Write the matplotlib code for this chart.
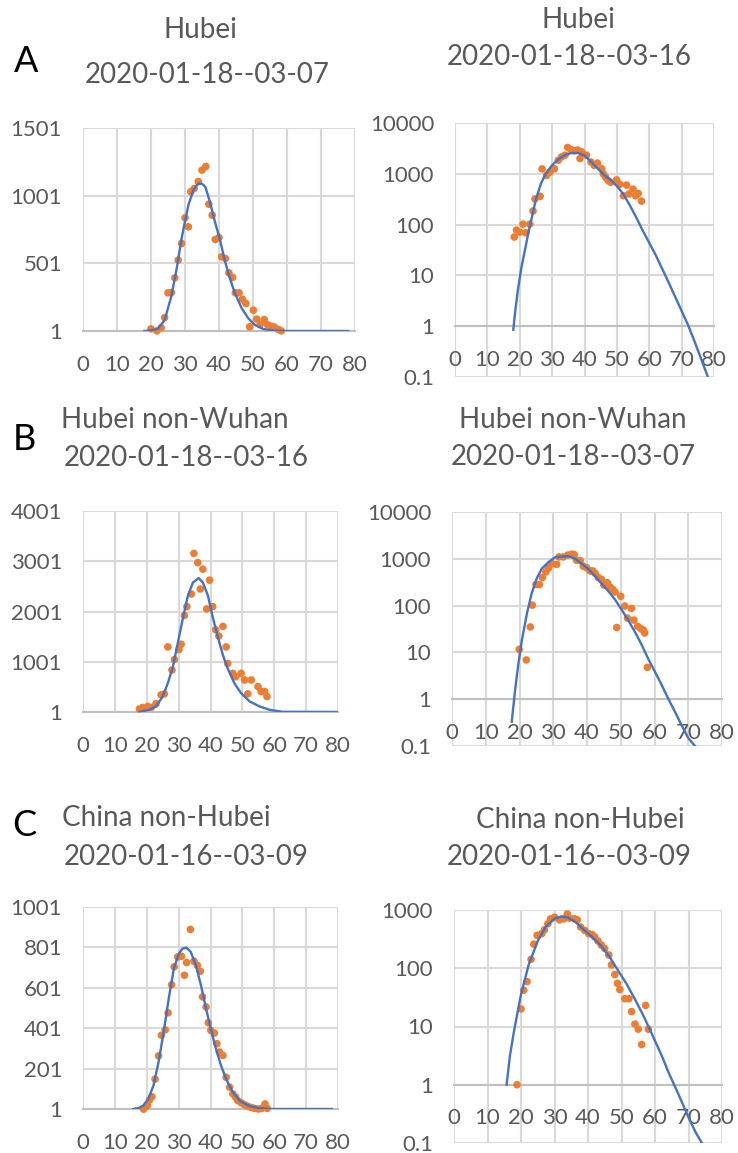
import matplotlib
matplotlib.use('Agg')
import matplotlib.pyplot as plt

plt.rcParams['font.family'] = ['Lato', 'DejaVu Sans']

# ---------------- data ----------------
# A left: Hubei 2020-01-18--03-07 (linear)
hubei_lin_x = [20.0, 21.7, 23.0, 24.0, 25.0, 26.0, 27.0, 28.0, 29.0, 30.0, 31.0, 31.7, 32.7, 33.9,
               35.0, 36.1, 37.0, 38.0, 38.9, 40.0, 40.8, 41.9, 42.9, 44.0, 44.8, 45.9, 46.9, 47.9,
               49.0, 50.1, 51.1, 52.1, 53.3, 54.2, 55.3, 56.3, 57.5, 58.3]
hubei_lin_y = [17, 2, 25, 100, 283, 285, 394, 525, 648, 837, 771, 1030, 1054, 1106,
               1190, 1217, 938, 857, 677, 692, 549, 537, 431, 397, 283, 283, 236, 204,
               32, 155, 89, 49, 86, 49, 37, 30, 12, 2]
hubei_lin_fit_x = [18, 20, 22, 24, 26, 27.5, 29, 30, 31, 32.5, 33.5, 34.4, 35.2, 36, 37.3, 38.8, 40.3,
                   41.8, 43.2, 44.7, 46.7, 48.6, 50.6, 53, 56.5, 60, 78]
hubei_lin_fit_y = [1, 5, 18, 80, 260, 455, 686, 810, 932, 1043, 1080, 1092, 1085, 1065, 957, 809, 673,
                   513, 390, 279, 168, 95, 45, 16, 3, 1, 1]

# A right: Hubei 2020-01-18--03-16 (log)
hubei_log_x = [18.3, 19.0, 20.0, 21.0, 21.9, 23.1, 24.1, 24.7, 26.3, 26.9, 28.3, 29.3, 30.7, 31.9,
               32.9, 34.0, 34.8, 35.8, 36.8, 37.9, 38.6, 39.1, 40.6, 42.0, 43.0, 44.0, 45.3, 45.8,
               46.5, 47.3, 48.1, 49.9, 50.9, 52.0, 53.0, 53.7, 55.0, 55.8, 56.6, 57.6]
hubei_log_y = [57, 78, 71, 102, 69, 102, 185, 320, 360, 1250, 930, 1080, 1260, 1850,
               2150, 2330, 3300, 3000, 2830, 2930, 2000, 2700, 2330, 1700, 1470, 1630, 1260, 1000,
               855, 735, 680, 760, 620, 370, 600, 400, 500, 370, 410, 290]
hubei_log_fit_x = [18.0, 18.7, 19.5, 20.5, 21.6, 22.7, 23.7, 25, 26.5, 28, 30, 32, 34, 36, 38, 40, 42,
                   44, 46, 48, 50, 52, 54, 56, 58, 60, 62, 64, 66, 68, 70, 72, 74, 76, 78]
hubei_log_fit_y = [0.85, 2.24, 5.6, 14.1, 31.6, 70.8, 135, 316, 631, 1000, 1479, 1950, 2344, 2570,
                   2570, 2291, 1738, 1288, 955, 759, 575, 398, 240, 138, 75.9, 43.7, 25.1, 13.5,
                   7.24, 3.8, 2.0, 1.05, 0.5, 0.23, 0.105]

# B left: Hubei non-Wuhan 2020-01-18--03-16 (linear)
nonwuhan_lin_x = [17.7, 18.7, 20.3, 21.4, 22.9, 24.5, 25.5, 26.6, 27.9, 28.7, 30.1, 30.8, 31.8, 32.6,
                  34.0, 34.8, 36.0, 36.8, 37.6, 38.8, 39.7, 40.7, 41.6, 42.6, 43.9, 44.9, 45.4, 47.0,
                  47.9, 49.6, 50.7, 51.7, 52.8, 54.9, 55.9, 57.0, 57.7]
nonwuhan_lin_y = [60, 92, 112, 92, 165, 342, 362, 1296, 836, 1046, 1244, 1349, 1921, 2099,
                  2349, 3158, 2974, 2448, 2843, 2053, 2625, 2099, 1638, 1513, 1704, 1296, 967, 770,
                  704, 770, 638, 362, 638, 507, 408, 408, 309]
nonwuhan_lin_fit_x = [17.7, 20.8, 22.9, 25, 26.6, 28.2, 29.7, 31.3, 32.9, 34.5, 36.3, 37.6, 39.2, 40.7,
                      42.3, 43.9, 45.4, 47.5, 49.6, 52.3, 55.4, 58.5, 62.5, 79.5]
nonwuhan_lin_fit_y = [1, 46, 112, 309, 572, 901, 1362, 1855, 2316, 2579, 2665, 2579, 2316, 1888,
                      1494, 1132, 868, 572, 375, 210, 112, 46, 5, 1]

# B right: Hubei non-Wuhan 2020-01-18--03-07 (log)
nonwuhan_log_x = [19.9, 22.0, 23.2, 23.8, 24.9, 25.9, 26.8, 27.8, 28.6, 29.6, 31.0, 31.7, 33.0, 34.3,
                  35.5, 36.2, 36.9, 38.0, 38.9, 39.9, 40.9, 41.7, 42.4, 43.3, 44.3, 45.0, 46.0, 46.8,
                  47.6, 48.3, 48.8, 50.0, 51.2, 52.0, 53.2, 53.9, 55.0, 56.0, 56.7, 57.1, 57.9]
nonwuhan_log_y = [11.6, 6.9, 35, 102, 282, 282, 398, 525, 631, 794, 759, 1096, 1096, 1202,
                  1259, 1230, 933, 912, 692, 646, 550, 550, 490, 398, 363, 275, 309, 251,
                  224, 195, 34, 158, 98, 54, 87, 49, 36, 32, 30, 26, 4.8]
nonwuhan_log_fit_x = [17.7, 18.7, 19.7, 20.7, 22.2, 23.6, 25.1, 26.6, 28.6, 30.5, 33, 34.5, 36.5, 38.4,
                      40.4, 42.4, 44.3, 46.3, 48.3, 50.2, 52.2, 54.2, 56.2, 58.1, 60.1, 62.1, 64, 66,
                      68, 70, 72]
nonwuhan_log_fit_y = [0.33, 1.58, 5.9, 18.2, 67.6, 182, 380, 617, 851, 1072, 1122, 1135, 1000, 794,
                      603, 427, 295, 204, 135, 83, 49, 27.5, 14.5, 7.4, 3.9, 2.04, 1.05, 0.55,
                      0.28, 0.148, 0.1]

# C left: China non-Hubei 2020-01-16--03-09 (linear)
china_lin_x = [19.0, 20.2, 20.9, 21.6, 22.6, 23.7, 24.6, 25.8, 26.7, 27.8, 28.6, 29.7, 30.9, 31.8,
               32.5, 33.7, 34.8, 35.9, 36.8, 37.5, 38.6, 39.3, 40.1, 41.2, 42.0, 42.8, 43.9, 44.9,
               46.0, 47.0, 47.9, 48.6, 49.7, 50.8, 51.8, 52.8, 53.8, 55.0, 56.0, 57.1, 57.8]
china_lin_y = [0, 18, 46, 62, 149, 264, 366, 393, 477, 616, 705, 754, 757, 663,
               726, 890, 733, 712, 683, 556, 506, 428, 390, 377, 324, 283, 266, 158,
               109, 76, 59, 42, 31, 21, 14, 8, 4, 1, 3, 26, 4]
china_lin_fit_x = [15.8, 17.5, 18.9, 20.5, 22.1, 23.7, 25.3, 26.9, 28.5, 30.1, 31.2, 32.4, 33.8, 35.4,
                   37, 38.6, 40.1, 41.7, 43.3, 44.9, 47, 49.2, 51.8, 55, 58.7, 78]
china_lin_fit_y = [1, 6, 18, 51, 117, 233, 382, 548, 697, 771, 795, 800, 779, 713,
                   614, 498, 398, 299, 216, 150, 84, 42, 18, 6, 1, 1]

# C right: China non-Hubei 2020-01-16--03-09 (log)
china_log_x = [18.8, 20.0, 20.8, 21.8, 23.0, 23.8, 24.8, 26.2, 27.0, 28.0, 28.8, 30.0, 31.5, 32.8,
               33.8, 34.5, 36.0, 36.8, 37.8, 39.0, 40.2, 41.2, 42.0, 43.0, 44.0, 45.0, 46.2, 47.0,
               48.0, 48.8, 49.5, 51.0, 52.2, 53.0, 54.0, 55.0, 56.0, 57.2, 58.0]
china_log_y = [1, 20, 42, 59, 142, 259, 367, 392, 458, 579, 704, 750, 677, 704,
               855, 725, 708, 677, 510, 447, 392, 380, 345, 293, 249, 218, 169, 114,
               78, 55, 43, 30, 30, 18, 11, 9, 4.9, 23, 9]
china_log_fit_x = [15.7, 16.7, 18, 20, 22.3, 25, 27.5, 30, 32, 34, 36.3, 38.6, 41, 44, 46.5, 49,
                   51.5, 54, 56.5, 59, 62, 64.2, 66.2, 68.2, 70.2, 72.2, 75]
china_log_fit_y = [1, 3.16, 8.9, 35.5, 115, 295, 525, 708, 776, 741, 617, 468, 355, 240, 155, 91,
                   54, 29.5, 15.5, 7.6, 3.16, 1.55, 0.87, 0.48, 0.26, 0.15, 0.08]

x_ticks = list(range(0, 81, 10))

# ---------------- styling ----------------
ORANGE = '#ED7D31'
BLUE = '#4472C4'
TXT = '#595959'
GRID = '#D9D9D9'
AXLINE = '#BFBFBF'

W, H = 738, 1153
fig = plt.figure(figsize=(W / 100, H / 100), dpi=100)


def make_axes(left, right, top, bottom):
    return fig.add_axes([left / W, 1 - bottom / H, (right - left) / W, (bottom - top) / H])


def draw_panel(ax, xs, ys, fx, fy, log, yticks, ylabels):
    ax.scatter(xs, ys, s=30, color=ORANGE, edgecolors='none', zorder=3, clip_on=False)
    ax.plot(fx, fy, color=BLUE, linewidth=1.7, zorder=4)
    if log:
        ax.set_yscale('log')
        ax.spines['bottom'].set_position(('data', 1))
        ax.minorticks_off()
    ax.set_xlim(0, 80)
    ax.set_ylim(yticks[0], yticks[-1])
    ax.set_xticks(x_ticks)
    ax.set_xticklabels([str(t) for t in x_ticks])
    ax.set_yticks(yticks)
    ax.set_yticklabels(ylabels)
    ax.grid(True, color=GRID, linewidth=1.5)
    ax.set_axisbelow(True)
    for s in ['top', 'right', 'left']:
        ax.spines[s].set_visible(False)
    ax.spines['bottom'].set_color(AXLINE)
    ax.spines['bottom'].set_linewidth(1.5)
    ax.spines['bottom'].set_zorder(2)
    ax.tick_params(axis='both', length=0, labelsize=16, labelcolor=TXT)
    ax.tick_params(axis='y', pad=15)
    ax.tick_params(axis='x', pad=17)


lin_a_ticks = [1, 501, 1001, 1501]
lin_b_ticks = [1, 1001, 2001, 3001, 4001]
lin_c_ticks = [1, 201, 401, 601, 801, 1001]
log_ticks_4 = [0.1, 1, 10, 100, 1000, 10000]
log_ticks_3 = [0.1, 1, 10, 100, 1000]

ax = make_axes(83, 355, 128, 331)
draw_panel(ax, hubei_lin_x, hubei_lin_y, hubei_lin_fit_x, hubei_lin_fit_y, False,
           lin_a_ticks, [str(t) for t in lin_a_ticks])

ax = make_axes(455, 714, 123, 377)
draw_panel(ax, hubei_log_x, hubei_log_y, hubei_log_fit_x, hubei_log_fit_y, True,
           log_ticks_4, ['0.1', '1', '10', '100', '1000', '10000'])

ax = make_axes(83, 338, 511, 712)
draw_panel(ax, nonwuhan_lin_x, nonwuhan_lin_y, nonwuhan_lin_fit_x, nonwuhan_lin_fit_y, False,
           lin_b_ticks, [str(t) for t in lin_b_ticks])

ax = make_axes(452, 722, 512, 746)
draw_panel(ax, nonwuhan_log_x, nonwuhan_log_y, nonwuhan_log_fit_x, nonwuhan_log_fit_y, True,
           log_ticks_4, ['0.1', '1', '10', '100', '1000', '10000'])

ax = make_axes(83, 338, 907, 1109)
draw_panel(ax, china_lin_x, china_lin_y, china_lin_fit_x, china_lin_fit_y, False,
           lin_c_ticks, [str(t) for t in lin_c_ticks])

ax = make_axes(454, 722, 910, 1143)
draw_panel(ax, china_log_x, china_log_y, china_log_fit_x, china_log_fit_y, True,
           log_ticks_3, ['0.1', '1', '10', '100', '1000'])

# titles (pixel positions)
titles = [
    ('Hubei', 200, 30), ('2020-01-18--03-07', 207, 75),
    ('Hubei', 578, 20), ('2020-01-18--03-16', 569, 57),
    ('Hubei non-Wuhan', 175, 420), ('2020-01-18--03-16', 186, 458),
    ('Hubei non-Wuhan', 573, 420), ('2020-01-18--03-07', 573, 457),
    ('China non-Hubei', 166, 818), ('2020-01-16--03-09', 186, 857),
    ('China non-Hubei', 580, 820), ('2020-01-16--03-09', 569, 857),
]
for txt, px, py in titles:
    fig.text(px / W, 1 - py / H, txt, ha='center', va='center', fontsize=20, color=TXT)

for letter, px, py in [('A', 26, 62), ('B', 24, 440), ('C', 24, 826)]:
    fig.text(px / W, 1 - py / H, letter, ha='center', va='center', fontsize=26, color='black')

fig.savefig('out.png', dpi=100)
